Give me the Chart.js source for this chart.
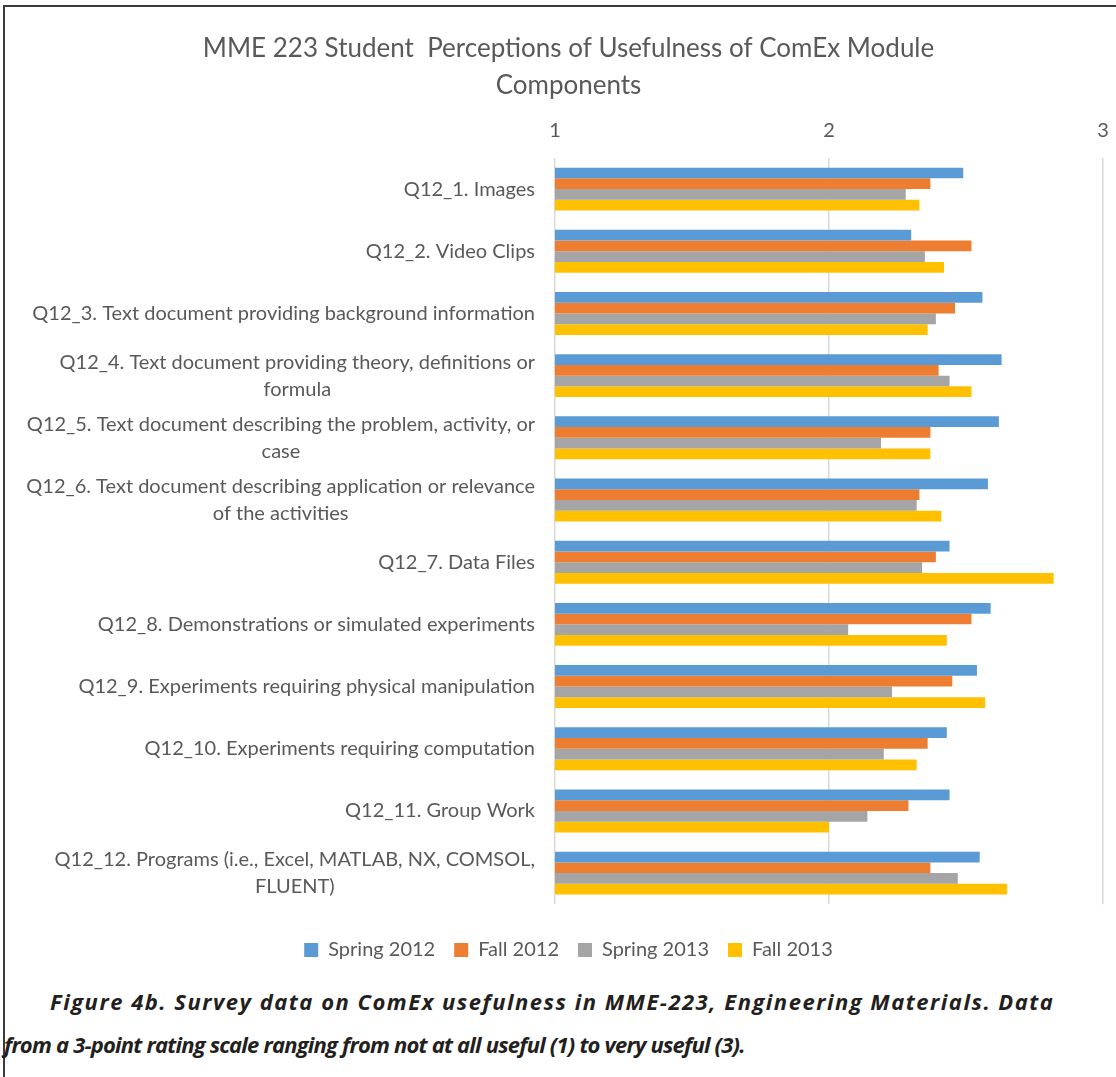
<!DOCTYPE html>
<html lang="en">
<head>
<meta charset="UTF-8" />
<title>MME 223 Student Perceptions of Usefulness of ComEx Module Components</title>
<script src="https://cdn.jsdelivr.net/npm/chart.js"></script>
<style>
  body {
    margin: 0;
    background: white;
    width: 1116px;
    height: 1077px;
    overflow: hidden;
    position: relative;
  }
  .frame {
    position: absolute;
    left: 3px;
    top: 5px;
    right: 0;
    bottom: 0;
    border-top: 2px solid #3a3a3a;
    border-left: 2px solid #3a3a3a;
  }
  .wrap {
    position: absolute;
    left: 0;
    top: 0;
    width: 1116px;
    height: 970px;
  }
  .caption {
    position: absolute;
    left: 4px;
    top: 980px;
    width: 1110px;
    white-space: nowrap;
    font-family: "Open Sans", Lato, sans-serif;
    font-weight: 700;
    font-style: italic;
    font-size: 22px;
    line-height: 43px;
    color: #231f20;
  }
  .caption .first { padding-left: 46px; letter-spacing: 1.5px; }
  .caption .second { letter-spacing: -0.8px; }
</style>
</head>
<body>

<div class="frame"></div>
<div class="wrap"><canvas id="usefulChart"></canvas></div>
<div class="caption"><span class="first">Figure 4b. Survey data on ComEx usefulness in MME-223, Engineering Materials. Data</span><br><span class="second">from a 3-point rating scale ranging from not at all useful (1) to very useful (3).</span></div>

<script>
  const categories = [
    ['Q12_1. Images'],
    ['Q12_2. Video Clips'],
    ['Q12_3. Text document providing background information'],
    ['Q12_4. Text document providing theory, definitions or', 'formula'],
    ['Q12_5. Text document describing the problem, activity, or', 'case'],
    ['Q12_6. Text document describing application or relevance', 'of the activities'],
    ['Q12_7. Data Files'],
    ['Q12_8. Demonstrations or simulated experiments'],
    ['Q12_9. Experiments requiring physical manipulation'],
    ['Q12_10. Experiments requiring computation'],
    ['Q12_11. Group Work'],
    ['Q12_12. Programs (i.e., Excel, MATLAB, NX, COMSOL,', 'FLUENT)']
  ];

  const seriesNames = ['Spring 2012', 'Fall 2012', 'Spring 2013', 'Fall 2013'];
  const spring2012 = [2.49, 2.30, 2.56, 2.63, 2.62, 2.58, 2.44, 2.59, 2.54, 2.43, 2.44, 2.55];
  const fall2012   = [2.37, 2.52, 2.46, 2.40, 2.37, 2.33, 2.39, 2.52, 2.45, 2.36, 2.29, 2.37];
  const spring2013 = [2.28, 2.35, 2.39, 2.44, 2.19, 2.32, 2.34, 2.07, 2.23, 2.20, 2.14, 2.47];
  const fall2013   = [2.33, 2.42, 2.36, 2.52, 2.37, 2.41, 2.82, 2.43, 2.57, 2.32, 2.00, 2.65];
  const xTicks = [1, 2, 3];

  const colors = ['#5b9bd5', '#ed7d31', '#a5a5a5', '#ffc000'];
  const textColor = '#595959';
  const fontFamily = 'Lato, "Open Sans", sans-serif';

  // y labels drawn by hand so wrapped lines are centred under each other (Excel style)
  const categoryLabels = {
    id: 'categoryLabels',
    afterDraw(chart) {
      const { ctx } = chart;
      const yScale = chart.scales.y;
      const right = yScale.right - 20;
      const lineHeight = 27;
      ctx.save();
      ctx.font = '20px ' + fontFamily;
      ctx.fillStyle = textColor;
      ctx.textAlign = 'center';
      ctx.textBaseline = 'middle';
      categories.forEach((lines, i) => {
        const y = yScale.getPixelForTick(i);
        const widest = Math.max(...lines.map(l => ctx.measureText(l).width));
        const cx = right - widest / 2;
        const top = y - (lines.length - 1) * lineHeight / 2;
        lines.forEach((line, j) => ctx.fillText(line, cx, top + j * lineHeight));
      });
      ctx.restore();
    }
  };

  const ctx = document.getElementById('usefulChart').getContext('2d');

  new Chart(ctx, {
    type: 'bar',
    data: {
      labels: categories.map(c => c.join(' ')),
      datasets: [spring2012, fall2012, spring2013, fall2013].map((values, i) => ({
        label: seriesNames[i],
        data: values,
        backgroundColor: colors[i],
        categoryPercentage: 0.69,
        barPercentage: 1.0
      }))
    },
    options: {
      indexAxis: 'y',
      responsive: true,
      maintainAspectRatio: false,
      animation: false,
      layout: { padding: { left: 34, right: 13, bottom: 0 } },
      scales: {
        x: {
          position: 'top',
          min: 1,
          max: 3,
          afterBuildTicks: scale => { scale.ticks = xTicks.map(v => ({ value: v })); },
          afterFit: scale => { scale.paddingLeft = 0; scale.paddingRight = 0; },
          grid: { color: '#d9d9d9', lineWidth: 1.5, drawTicks: false },
          border: { display: false },
          ticks: {
            color: textColor,
            padding: 15,
            font: { family: fontFamily, size: 20 }
          }
        },
        y: {
          grid: { display: false },
          border: { display: false },
          ticks: { display: false },
          afterFit: scale => { scale.width = 521; }
        }
      },
      plugins: {
        title: {
          display: true,
          text: ['MME 223 Student  Perceptions of Usefulness of ComEx Module', 'Components'],
          color: textColor,
          font: { family: fontFamily, size: 26, weight: 'normal', lineHeight: 1.423 },
          padding: { top: 30, bottom: 0 }
        },
        legend: {
          position: 'bottom',
          title: { display: true, text: ' ', font: { size: 14 }, padding: 0 },
          labels: {
            color: textColor,
            boxWidth: 14,
            boxHeight: 14,
            padding: 19,
            font: { family: fontFamily, size: 20 }
          }
        },
        tooltip: { enabled: false }
      }
    },
    plugins: [categoryLabels]
  });
</script>

</body>
</html>
